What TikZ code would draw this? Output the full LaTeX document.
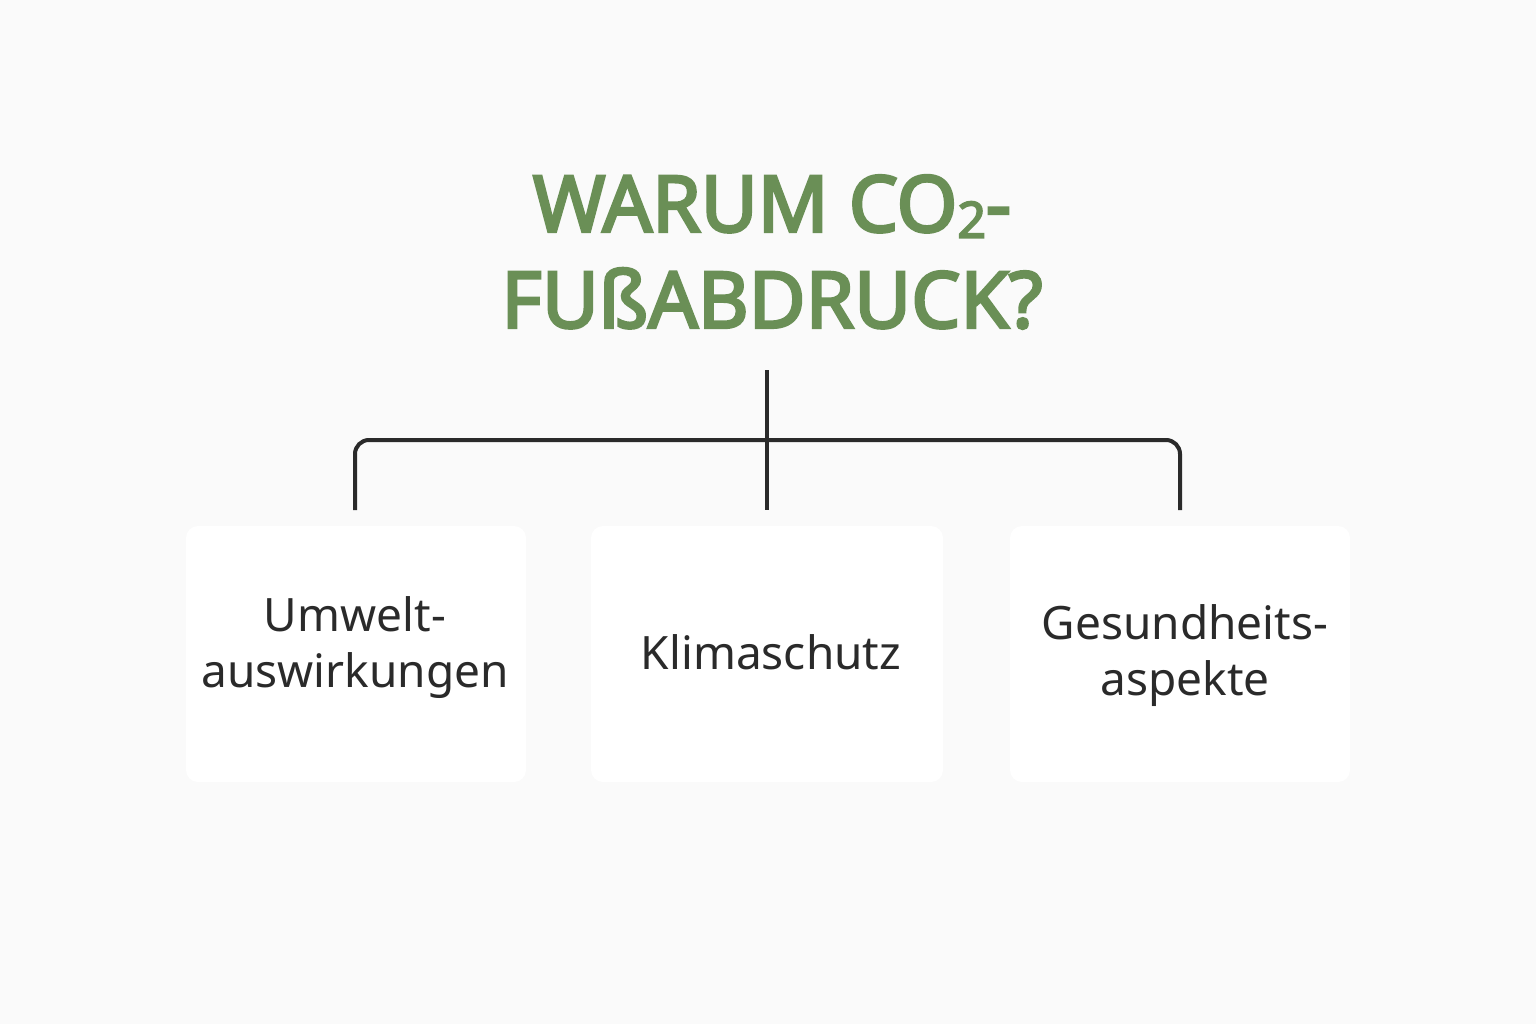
\documentclass[tikz,border=0pt]{standalone}
\usepackage{fontspec}
\setmainfont{Noto Sans}
\newfontfamily\ttlfont{Noto Sans}[FakeBold=3.5]
\definecolor{bg}{HTML}{FAFAFA}
\definecolor{ttl}{HTML}{6A8F56}
\definecolor{ink}{HTML}{2A2A2A}
\begin{document}
\begin{tikzpicture}[x=1pt,y=-1pt,
  box/.style={fill=white,rounded corners=12pt},
  lbl/.style={font=\fontsize{46}{56}\selectfont,text=ink,align=center},
  conn/.style={draw=ink,line width=4pt,rounded corners=14pt}]
\fill[bg] (0,0) rectangle (1536,1024);
\node[font=\fontsize{78}{96}\selectfont\ttlfont,text=ttl,align=center] (title) at (772,252)
  {WARUM CO\raisebox{-6pt}{\fontsize{50}{50}\selectfont 2}-\\FUßABDRUCK?};
\fill[box] (186,526) rectangle (526,782);
\fill[box] (591,526) rectangle (943,782);
\fill[box] (1010,526) rectangle (1350,782);
\node[lbl] (a) at (355,648) {Umwelt-\\auswirkungen};
\node[lbl] (b) at (771,652) {Klimaschutz};
\node[lbl] (c) at (1185,656) {Gesundheits-\\aspekte};
\coordinate (top) at (767,370);
\coordinate (mid) at (767,510);
\coordinate (l) at (355,510);
\coordinate (r) at (1180,510);
\draw[conn] (top) -- (mid);
\draw[conn] (l) -- (355,440) -- (1180,440) -- (r);
\end{tikzpicture}
\end{document}
